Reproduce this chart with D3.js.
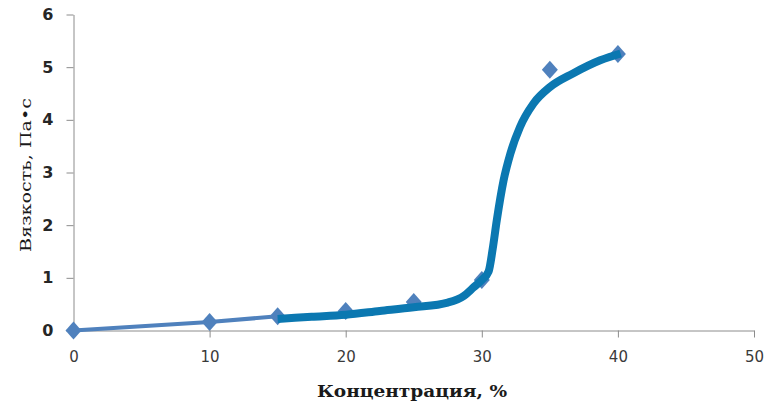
<!DOCTYPE html>
<html>
<head>
<meta charset="utf-8">
<script src="https://cdn.jsdelivr.net/npm/d3@7"></script>
<style>
  html, body { margin: 0; padding: 0; background: #fff; }
  svg { display: block; }
</style>
</head>
<body>
<svg id="chart" width="770" height="409"></svg>
<script>
// Measured viscosity vs. concentration
const concentration = [0, 10, 15, 20, 25, 30, 35, 40];
const viscosity     = [0, 0.16, 0.27, 0.37, 0.54, 0.96, 4.95, 5.25];

// Smoothed trend curve drawn over the measurements
const trendConc = [15, 17.5, 20, 22.5, 25, 27.5, 28.7, 29.4, 30.0, 30.5, 30.8, 31.1, 31.6, 32.1, 32.8, 33.8, 35.0, 36.7, 38.7, 40.2];
const trendVisc = [0.22, 0.26, 0.30, 0.37, 0.44, 0.53, 0.66, 0.82, 0.96, 1.12, 1.55, 2.09, 2.85, 3.36, 3.86, 4.31, 4.62, 4.88, 5.13, 5.26];

// Portion of the measured series joined by a thin line
const lineUpTo = 15;

const xTicks = [0, 10, 20, 30, 40, 50];
const yTicks = [0, 1, 2, 3, 4, 5, 6];

const xTitle = "Концентрация, %";
const yTitle = "Вязкость, Па•с";

const svg = d3.select("#chart");

const x = d3.scaleLinear().domain([0, 50]).range([73.5, 754]);
const y = d3.scaleLinear().domain([0, 6]).range([330.5, 14.5]);

const axisColor = "#8c8c8c";

// X axis
const gx = svg.append("g").attr("transform", `translate(0,${y(0)})`)
  .call(d3.axisBottom(x).tickValues(xTicks).tickFormat(d3.format("d"))
    .tickSize(7).tickSizeOuter(0).tickPadding(14));
gx.select(".domain").attr("stroke", axisColor);
gx.selectAll(".tick line").attr("stroke", axisColor);
gx.selectAll(".tick text")
  .attr("font-family", "'DejaVu Sans', Verdana, sans-serif")
  .attr("font-size", 15)
  .attr("fill", "#3a3a3a");

// Y axis
const gy = svg.append("g").attr("transform", `translate(${x(0)},0)`)
  .call(d3.axisLeft(y).tickValues(yTicks).tickFormat(d3.format("d"))
    .tickSize(7).tickSizeOuter(0).tickPadding(13));
gy.select(".domain").attr("stroke", axisColor);
gy.selectAll(".tick line").attr("stroke", axisColor);
gy.selectAll(".tick text")
  .attr("font-family", "'DejaVu Sans', Verdana, sans-serif")
  .attr("font-size", 16)
  .attr("font-weight", "bold")
  .attr("fill", "#262626");

// Axis titles
svg.append("text")
  .attr("x", 412).attr("y", 397)
  .attr("text-anchor", "middle")
  .attr("font-family", "'DejaVu Serif', serif")
  .attr("font-weight", "bold")
  .attr("font-size", 16)
  .attr("textLength", 190)
  .attr("lengthAdjust", "spacingAndGlyphs")
  .attr("fill", "#1a1a1a")
  .text(xTitle);

svg.append("text")
  .attr("transform", "translate(31,175) rotate(-90)")
  .attr("text-anchor", "middle")
  .attr("font-family", "'DejaVu Serif', serif")
  .attr("font-size", 15)
  .attr("textLength", 154)
  .attr("lengthAdjust", "spacingAndGlyphs")
  .attr("fill", "#1a1a1a")
  .text(yTitle);

const points = concentration.map((c, i) => ({ c, v: viscosity[i] }));
const markerColor = "#4f81bd";

// Thin connecting line for the low-concentration measurements
svg.append("path")
  .datum(points.filter(p => p.c <= lineUpTo))
  .attr("fill", "none")
  .attr("stroke", markerColor)
  .attr("stroke-width", 4)
  .attr("d", d3.line().x(p => x(p.c)).y(p => y(p.v)));

// Diamond markers
const hw = 8, hh = 9;
svg.append("g").selectAll("path")
  .data(points)
  .join("path")
  .attr("transform", p => `translate(${x(p.c)},${y(p.v)})`)
  .attr("d", `M0,${-hh}L${hw},0L0,${hh}L${-hw},0Z`)
  .attr("fill", markerColor);

// Thick trend curve
const trend = trendConc.map((c, i) => ({ c, v: trendVisc[i] }));
svg.append("path")
  .datum(trend)
  .attr("fill", "none")
  .attr("stroke", "#0b78b1")
  .attr("stroke-width", 8)
  .attr("stroke-linejoin", "round")
  .attr("d", d3.line().curve(d3.curveMonotoneX).x(p => x(p.c)).y(p => y(p.v)));
</script>
</body>
</html>
